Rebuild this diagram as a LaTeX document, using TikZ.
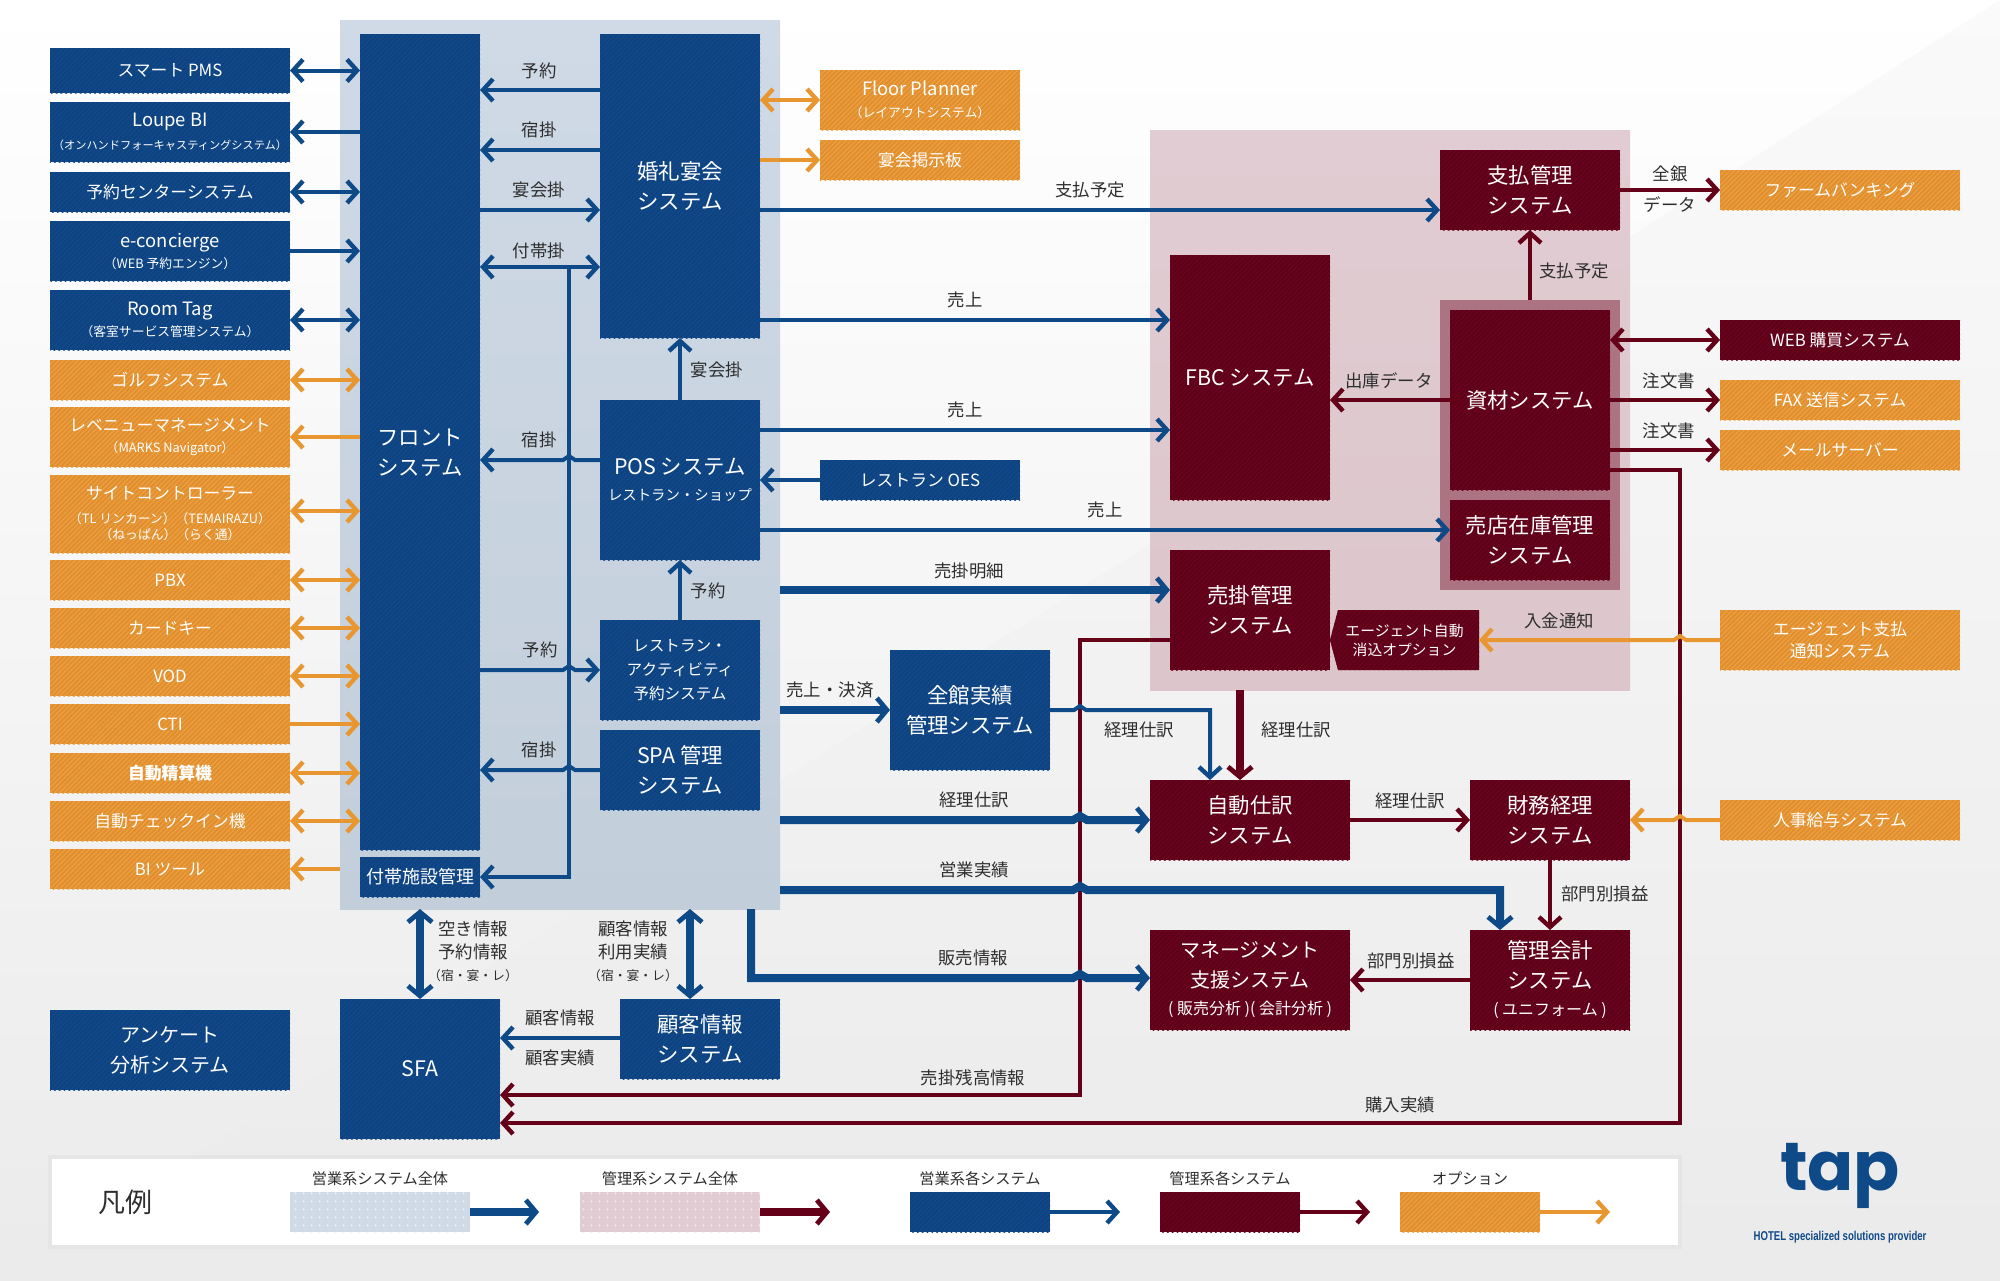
\documentclass[tikz,border=0pt]{standalone}
\usepackage{fontspec}
\setmainfont{Noto Sans CJK JP}
\newfontfamily\logofont{Poppins}
\newfontfamily\tagfont[FakeStretch=0.75]{Liberation Sans}
\usetikzlibrary{arrows.meta,patterns.meta}
\definecolor{navy}{HTML}{0E4280}
\definecolor{navystripe}{HTML}{124C8C}
\definecolor{navyline}{HTML}{0F4A88}
\definecolor{maroon}{HTML}{5E0018}
\definecolor{maroonstripe}{HTML}{6C0520}
\definecolor{maroonline}{HTML}{650019}
\definecolor{amber}{HTML}{E28E2E}
\definecolor{amberstripe}{HTML}{EBA445}
\definecolor{amberline}{HTML}{E8962F}
\definecolor{paleblue}{HTML}{CFDAE6}
\definecolor{palebluedark}{HTML}{C3CEDB}
\definecolor{palepink}{HTML}{E0CCD2}
\definecolor{palepinkdark}{HTML}{DCC6CC}
\definecolor{midpink}{HTML}{AC7382}
\definecolor{textgray}{HTML}{2E2E2E}
\tikzset{
  boxsize/.style 2 args={minimum width=#1*0.5pt,minimum height=#2*0.5pt},
  plainbox/.style={inner sep=0pt,outer sep=0pt,align=center,text=white},
  navybox/.style={plainbox,fill=navy,postaction={pattern={Lines[angle=45,distance=1.7pt,line width=.5pt]},pattern color=navystripe}},
  maroonbox/.style={plainbox,fill=maroon,postaction={pattern={Lines[angle=45,distance=1.7pt,line width=.5pt]},pattern color=maroonstripe}},
  amberbox/.style={plainbox,fill=amber,postaction={pattern={Lines[angle=45,distance=1.7pt,line width=.5pt]},pattern color=amberstripe}},
  bigfont/.style={font=\fontsize{10.7}{15}\selectfont},
  midfont/.style={font=\fontsize{8.4}{11}\selectfont},
  lbl/.style={inner sep=0pt,text=textgray,font=\fontsize{8.7}{11.5}\selectfont},
  blueline/.style={draw=navyline,line width=2pt,>={Straight Barb[length=5pt,width=11pt,line width=2.2pt]}},
  redline/.style={draw=maroonline,line width=2pt,>={Straight Barb[length=5pt,width=11pt,line width=2.2pt]}},
  amberarrow/.style={draw=amberline,line width=2pt,>={Straight Barb[length=5pt,width=11pt,line width=2.2pt]}},
  heavy/.style={line width=4pt,>={Straight Barb[length=5pt,width=12pt,line width=2.4pt]}},
}
\newcommand{\subsize}{\fontsize{6.4}{8}\selectfont}
\newcommand{\bigsize}{\fontsize{10.7}{15}\selectfont}
\newcommand{\latinsize}{\fontsize{9.2}{11}\selectfont}
\begin{document}
\begin{tikzpicture}[x=0.5pt,y=-0.5pt]
	\useasboundingbox (0,0) rectangle (2000,1280);
	% background
	\shade[top color=white,middle color=white!98!black,bottom color=black!8] (0,0) rectangle (2000,1280);
	\shade[top color=black!2,middle color=black!3,bottom color=black!8] (2000,0) -- (0,1280) -- (2000,1280) -- cycle;

	% groups
	\node[inner sep=0pt,outer sep=0pt,top color=paleblue,middle color=paleblue,bottom color=palebluedark,boxsize={440}{889}] (salesarea) at (560,464.5) {};
	\node[inner sep=0pt,outer sep=0pt,top color=palepink,bottom color=palepinkdark,boxsize={480}{560}] (adminarea) at (1390,410) {};
	\node[inner sep=0pt,outer sep=0pt,fill=midpink,boxsize={180}{290}] (stockarea) at (1530,445) {};

	% left column
	\node[navybox,midfont,boxsize={240}{45}] (smartpms) at (170,70.5) {スマート PMS};
	\node[navybox,midfont,boxsize={240}{60}] (loupe) at (170,132) {{\latinsize Loupe BI}\\[0.5pt]{\fontsize{5.6}{8}\selectfont （オンハンドフォーキャスティングシステム）}};
	\node[navybox,midfont,boxsize={240}{40}] (callcenter) at (170,192) {予約センターシステム};
	\node[navybox,midfont,boxsize={240}{60}] (econcierge) at (170,251) {{\latinsize e-concierge}\\[-0.5pt]{\subsize （WEB 予約エンジン）}};
	\node[navybox,midfont,boxsize={240}{60}] (roomtag) at (170,320) {{\latinsize Room Tag}\\[-0.5pt]{\subsize （客室サービス管理システム）}};
	\node[amberbox,midfont,boxsize={240}{40}] (golf) at (170,380) {ゴルフシステム};
	\node[amberbox,midfont,boxsize={240}{60}] (revenue) at (170,437) {レベニューマネージメント\\[-0.5pt]{\subsize （MARKS Navigator）}};
	\node[amberbox,midfont,boxsize={240}{78}] (sitecon) at (170,514) {サイトコントローラー\\[1pt]{\subsize （TL リンカーン）（TEMAIRAZU）}\\[-3pt]{\subsize （ねっぱん）（らく通）}};
	\node[amberbox,midfont,boxsize={240}{40}] (pbx) at (170,580) {PBX};
	\node[amberbox,midfont,boxsize={240}{40}] (cardkey) at (170,628) {カードキー};
	\node[amberbox,midfont,boxsize={240}{40}] (vod) at (170,676) {VOD};
	\node[amberbox,midfont,boxsize={240}{40}] (cti) at (170,724) {CTI};
	\node[amberbox,midfont,boxsize={240}{40}] (kiosk) at (170,773) {\bfseries 自動精算機};
	\node[amberbox,midfont,boxsize={240}{40}] (checkin) at (170,821) {自動チェックイン機};
	\node[amberbox,midfont,boxsize={240}{40}] (bitool) at (170,869) {BI ツール};
	\node[navybox,font=\fontsize{10}{15}\selectfont,boxsize={240}{80}] (survey) at (170,1050) {アンケート\\分析システム};

	% sales systems
	\node[navybox,boxsize={120}{816}] (front) at (420,442) {};
	\node[plainbox,bigfont] (fronttext) at (420,453) {フロント\\システム};
	\node[navybox,font=\fontsize{9}{12}\selectfont,boxsize={120}{40}] (facility) at (420,877) {付帯施設管理};
	\node[navybox,bigfont,boxsize={160}{304}] (wedding) at (680,186) {婚礼宴会\\システム};
	\node[navybox,boxsize={160}{160}] (pos) at (680,480) {{\bigsize POS システム}\\[1pt]{\fontsize{7.2}{10}\selectfont レストラン・ショップ}};
	\node[navybox,font=\fontsize{7.8}{12}\selectfont,boxsize={160}{100}] (activity) at (680,670) {レストラン・\\アクティビティ\\予約システム};
	\node[navybox,bigfont,boxsize={160}{80}] (spa) at (680,770) {SPA 管理\\システム};
	\node[amberbox,boxsize={200}{60}] (floorplanner) at (920,100) {{\latinsize Floor Planner}\\[-1pt]{\subsize （レイアウトシステム）}};
	\node[amberbox,midfont,boxsize={200}{40}] (banquetboard) at (920,160) {宴会掲示板};
	\node[navybox,midfont,boxsize={200}{40}] (oes) at (920,480) {レストラン OES};
	\node[navybox,bigfont,boxsize={160}{120}] (allsales) at (970,710) {全館実績\\管理システム};
	\node[navybox,bigfont,boxsize={160}{140}] (sfa) at (420,1069) {SFA};
	\node[navybox,bigfont,boxsize={160}{80}] (customer) at (700,1039) {顧客情報\\システム};

	% admin systems
	\node[maroonbox,bigfont,boxsize={180}{80}] (payment) at (1530,190) {支払管理\\システム};
	\node[maroonbox,bigfont,boxsize={160}{245}] (fbc) at (1250,377.5) {FBC システム};
	\node[maroonbox,bigfont,boxsize={160}{180}] (stock) at (1530,400) {資材システム};
	\node[maroonbox,bigfont,boxsize={160}{80}] (shopstock) at (1530,540) {売店在庫管理\\システム};
	\node[maroonbox,bigfont,boxsize={160}{120}] (receivable) at (1250,610) {売掛管理\\システム};
	\fill[maroonbox] (1338,610) -- (1479,610) -- (1479,670) -- (1338,670) -- (1330,640) -- cycle;
	\node[plainbox,font=\fontsize{7.4}{9.5}\selectfont,boxsize={149}{60}] (agentauto) at (1404.5,640) {エージェント自動\\消込オプション};
	\node[maroonbox,bigfont,boxsize={200}{80}] (autojournal) at (1250,820) {自動仕訳\\システム};
	\node[maroonbox,bigfont,boxsize={160}{80}] (finance) at (1550,820) {財務経理\\システム};
	\node[maroonbox,bigfont,boxsize={160}{100}] (mgmtacc) at (1550,980) {管理会計\\システム\\[-1.5pt]{\fontsize{8}{11}\selectfont ( ユニフォーム )}};
	\node[maroonbox,font=\fontsize{10}{15}\selectfont,boxsize={200}{100}] (mgmtsupport) at (1250,980) {マネージメント\\支援システム\\[-1.5pt]{\fontsize{8}{11}\selectfont ( 販売分析 )( 会計分析 )}};

	% right column
	\node[amberbox,midfont,boxsize={240}{40}] (firmbanking) at (1840,190) {ファームバンキング};
	\node[maroonbox,midfont,boxsize={240}{40}] (webbuy) at (1840,340) {WEB 購買システム};
	\node[amberbox,midfont,boxsize={240}{40}] (fax) at (1840,400) {FAX 送信システム};
	\node[amberbox,midfont,boxsize={240}{40}] (mailserver) at (1840,450) {メールサーバー};
	\node[amberbox,midfont,boxsize={240}{60}] (agentpay) at (1840,640) {エージェント支払\\通知システム};
	\node[amberbox,midfont,boxsize={240}{40}] (payroll) at (1840,820) {人事給与システム};

	% maroon runs that others hop over
	\draw[redline,->] (receivable.west |- 0,640) -- (1080,640) -- (1080,1095) -- (sfa.east |- 0,1095);
	\draw[redline,->] (stock.east |- 0,470) -- (1680,470) -- (1680,1123) -- (sfa.east |- 0,1123);

	% left connectors
	\draw[blueline,<->] (smartpms.east) -- (front.west |- smartpms.east);
	\draw[blueline,->] (front.west |- loupe.east) -- (loupe.east);
	\draw[blueline,<->] (callcenter.east) -- (front.west |- callcenter.east);
	\draw[blueline,->] (econcierge.east) -- (front.west |- econcierge.east);
	\draw[blueline,<->] (roomtag.east) -- (front.west |- roomtag.east);
	\draw[amberarrow,<->] (golf.east) -- (front.west |- golf.east);
	\draw[amberarrow,->] (front.west |- revenue.east) -- (revenue.east);
	\draw[amberarrow,<->] (sitecon.east |- 0,511) -- (front.west |- 0,511);
	\draw[amberarrow,<->] (pbx.east) -- (front.west |- pbx.east);
	\draw[amberarrow,<->] (cardkey.east) -- (front.west |- cardkey.east);
	\draw[amberarrow,<->] (vod.east) -- (front.west |- vod.east);
	\draw[amberarrow,->] (cti.east) -- (front.west |- cti.east);
	\draw[amberarrow,<->] (kiosk.east) -- (front.west |- kiosk.east);
	\draw[amberarrow,<->] (checkin.east) -- (front.west |- checkin.east);
	\draw[amberarrow,->] (salesarea.west |- bitool.east) -- (bitool.east);

	% inside sales area
	\draw[blueline,->] (wedding.west |- 0,90) -- (front.east |- 0,90);
	\draw[blueline,->] (wedding.west |- 0,150) -- (front.east |- 0,150);
	\draw[blueline,->] (front.east |- 0,210) -- (wedding.west |- 0,210);
	\draw[blueline,<->] (front.east |- 0,267) -- (wedding.west |- 0,267);
	\draw[blueline,->] (569,267) -- (569,877) -- (facility.east);
	\draw[blueline,->] (pos.west |- 0,460) -- (575,460) -- (569,456) -- (563,460) -- (front.east |- 0,460);
	\draw[blueline,->] (front.east |- activity.west) -- (563,670) -- (569,666) -- (575,670) -- (activity.west);
	\draw[blueline,->] (spa.west) -- (575,770) -- (569,766) -- (563,770) -- (front.east |- spa.west);
	\draw[blueline,->] (pos.north) -- (wedding.south);
	\draw[blueline,->] (activity.north) -- (pos.south);

	% out of the wedding and POS boxes
	\draw[amberarrow,<->] (wedding.east |- floorplanner.west) -- (floorplanner.west);
	\draw[amberarrow,->] (wedding.east |- banquetboard.west) -- (banquetboard.west);
	\draw[blueline,->] (wedding.east |- 0,210) -- (payment.west |- 0,210);
	\draw[blueline,->] (wedding.east |- 0,320) -- (fbc.west |- 0,320);
	\draw[blueline,->] (pos.east |- 0,430) -- (fbc.west |- 0,430);
	\draw[blueline,->] (oes.west) -- (pos.east |- oes.west);
	\draw[blueline,->] (pos.east |- 0,530) -- (shopstock.west |- 0,530);

	% out of the sales area
	\draw[blueline,heavy,->] (salesarea.east |- 0,590) -- (receivable.west |- 0,590);
	\draw[blueline,heavy,->] (salesarea.east |- allsales.west) -- (allsales.west);
	\draw[blueline,->] (allsales.east) -- (1074,710) -- (1080,706) -- (1086,710) -- (1210,710) -- (1210,780);
	\draw[blueline,heavy,->] (salesarea.east |- autojournal.west) -- (1073,820) -- (1080,816) -- (1087,820) -- (autojournal.west);
	\draw[blueline,heavy,->] (salesarea.east |- 0,890) -- (1073,890) -- (1080,886) -- (1087,890) -- (1500,890) -- (1500,930);
	\draw[blueline,heavy,->] (751,909) -- (751,978) -- (1073,978) -- (1080,974) -- (1087,978) -- (mgmtsupport.west |- 0,978);
	\draw[blueline,heavy,<->] (420,909) -- (sfa.north);
	\draw[blueline,heavy,<->] (690,909) -- (690,999);
	\draw[blueline,->] (customer.west |- 0,1038) -- (sfa.east |- 0,1038);

	% admin connectors
	\draw[redline,->] (stock.north |- stockarea.north) -- (payment.south);
	\draw[redline,->] (stock.west) -- (fbc.east |- stock.west);
	\draw[redline,heavy,->] (1240,690) -- (1240,780);
	\draw[redline,->] (autojournal.east) -- (finance.west);
	\draw[redline,->] (finance.south) -- (mgmtacc.north);
	\draw[redline,->] (mgmtacc.west) -- (mgmtsupport.east);
	\draw[redline,->] (payment.east) -- (firmbanking.west);
	\draw[redline,<->] (stock.east |- webbuy.west) -- (webbuy.west);
	\draw[redline,->] (stock.east |- fax.west) -- (fax.west);
	\draw[redline,->] (stock.east |- mailserver.west) -- (mailserver.west);
	\draw[amberarrow,->] (agentpay.west) -- (1686,640) -- (1680,636) -- (1674,640) -- (agentauto.east);
	\draw[amberarrow,->] (payroll.west) -- (1686,820) -- (1680,816) -- (1674,820) -- (finance.east);

	% connector labels
	\node[lbl] (l1) at (539,71) {予約};
	\node[lbl] (l2) at (539,130) {宿掛};
	\node[lbl] (l3) at (539,190) {宴会掛};
	\node[lbl] (l4) at (539,251) {付帯掛};
	\node[lbl] (l5) at (539,440) {宿掛};
	\node[lbl] (l6) at (540,650) {予約};
	\node[lbl] (l7) at (539,750) {宿掛};
	\node[lbl] (l8) at (717,370) {宴会掛};
	\node[lbl] (l9) at (708,591) {予約};
	\node[lbl] (l10) at (1090,190) {支払予定};
	\node[lbl] (l11) at (965,300) {売上};
	\node[lbl] (l12) at (965,410) {売上};
	\node[lbl] (l13) at (1105,510) {売上};
	\node[lbl] (l14) at (969,571) {売掛明細};
	\node[lbl] (l15) at (830,690) {売上・決済};
	\node[lbl] (l16) at (1139,730) {経理仕訳};
	\node[lbl] (l17) at (1296,730) {経理仕訳};
	\node[lbl] (l18) at (974,800) {経理仕訳};
	\node[lbl] (l19) at (974,870) {営業実績};
	\node[lbl] (l20) at (973,958) {販売情報};
	\node[lbl] (l21) at (1410,801) {経理仕訳};
	\node[lbl] (l22) at (1605,894) {部門別損益};
	\node[lbl] (l23) at (1411,961) {部門別損益};
	\node[lbl] (l24) at (973,1078) {売掛残高情報};
	\node[lbl] (l25) at (1400,1105) {購入実績};
	\node[lbl] (l26) at (1559,621) {入金通知};
	\node[lbl] (l27) at (1389,381) {出庫データ};
	\node[lbl] (l28) at (1574,271) {支払予定};
	\node[lbl] (l29) at (1670,174) {全銀};
	\node[lbl] (l30) at (1670,205) {データ};
	\node[lbl] (l31) at (1669,381) {注文書};
	\node[lbl] (l32) at (1669,431) {注文書};
	\node[lbl,align=center] (l33) at (473,951) {空き情報\\予約情報\\[-0.5pt]{\subsize （宿・宴・レ）}};
	\node[lbl,align=center] (l34) at (633,951) {顧客情報\\利用実績\\[-0.5pt]{\subsize （宿・宴・レ）}};
	\node[lbl] (l35) at (560,1018) {顧客情報};
	\node[lbl] (l36) at (560,1058) {顧客実績};

	% legend
	\node[inner sep=0pt,fill=black!10,boxsize={1634}{94}] (legendback) at (865,1202) {};
	\node[inner sep=0pt,fill=white,boxsize={1626}{86}] (legend) at (865,1202) {};
	\node[lbl,font=\fontsize{13.5}{16}\selectfont] (legendtitle) at (125,1202) {凡例};
	\node[lbl,font=\fontsize{7.6}{10}\selectfont] (legendA) at (380,1179) {営業系システム全体};
	\node[lbl,font=\fontsize{7.6}{10}\selectfont] (legendB) at (670,1179) {管理系システム全体};
	\node[lbl,font=\fontsize{7.6}{10}\selectfont] (legendC) at (980,1179) {営業系各システム};
	\node[lbl,font=\fontsize{7.6}{10}\selectfont] (legendD) at (1230,1179) {管理系各システム};
	\node[lbl,font=\fontsize{7.6}{10}\selectfont] (legendE) at (1470,1179) {オプション};
	\node[inner sep=0pt,outer sep=0pt,fill=paleblue,postaction={pattern={Dots[distance=4pt,radius=.7pt]},pattern color=white!50!paleblue},boxsize={180}{40}] (keyblue) at (380,1212) {};
	\node[inner sep=0pt,outer sep=0pt,fill=palepink,postaction={pattern={Dots[distance=4pt,radius=.7pt]},pattern color=white!50!palepink},boxsize={180}{40}] (keypink) at (670,1212) {};
	\node[navybox,boxsize={140}{40}] (keynavy) at (980,1212) {};
	\node[maroonbox,boxsize={140}{40}] (keymaroon) at (1230,1212) {};
	\node[amberbox,boxsize={140}{40}] (keyamber) at (1470,1212) {};
	\coordinate (tipA) at (539,1212);
	\coordinate (tipB) at (830,1212);
	\coordinate (tipC) at (1120,1212);
	\coordinate (tipD) at (1370,1212);
	\coordinate (tipE) at (1610,1212);
	\draw[blueline,heavy,->] (keyblue.east) -- (tipA);
	\draw[redline,heavy,->] (keypink.east) -- (tipB);
	\draw[blueline,->] (keynavy.east) -- (tipC);
	\draw[redline,->] (keymaroon.east) -- (tipD);
	\draw[amberarrow,->] (keyamber.east) -- (tipE);

	% logo
	\node[inner sep=0pt,text=navyline,font=\logofont\bfseries\fontsize{34}{38}\selectfont] (logo) at (1840,1176) {tap};
	\node[inner sep=0pt,text=navyline,font=\tagfont\bfseries\fontsize{6.4}{8}\selectfont] (tagline) at (1840,1237) {HOTEL specialized solutions provider};
\end{tikzpicture}
\end{document}
